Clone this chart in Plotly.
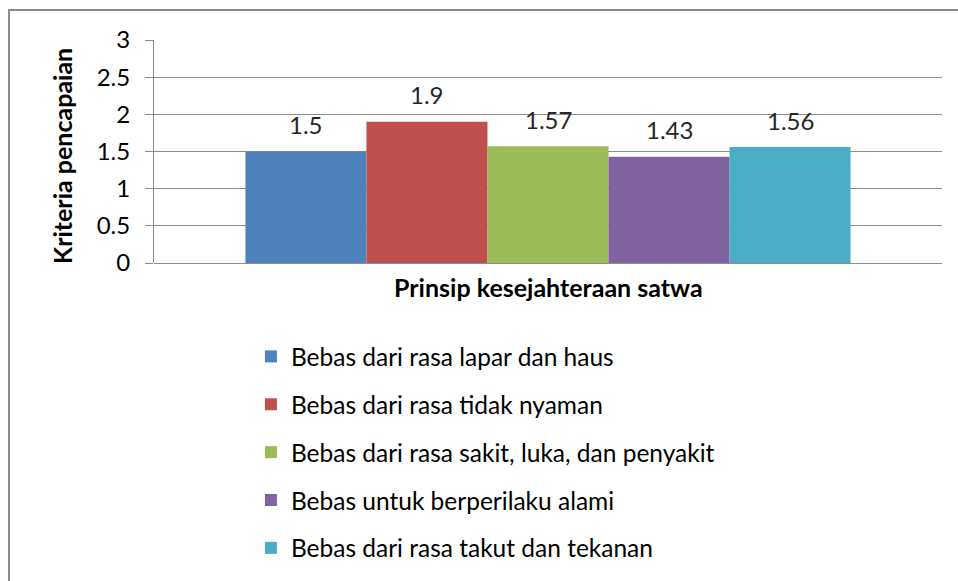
import plotly.graph_objects as go

categories = ["Prinsip kesejahteraan satwa"]
series_names = [
    "Bebas dari rasa lapar dan haus",
    "Bebas dari rasa tidak nyaman",
    "Bebas dari rasa sakit, luka, dan penyakit",
    "Bebas untuk berperilaku alami",
    "Bebas dari rasa takut dan tekanan",
]
series_values = [1.5, 1.9, 1.57, 1.43, 1.56]
colors = ["#4F81BD", "#C0504D", "#9BBB59", "#8064A2", "#4BACC6"]
y_ticks = [0, 0.5, 1, 1.5, 2, 2.5, 3]

FONT = "Lato"
W, H = 958, 581
ML, MR, MT, MB = 154, 16, 40, 318
PW, PH = W - ML - MR, H - MT - MB
BARGAP = 0.232
n = len(series_values)
bar_px = PW * (1 - BARGAP) / n

fig = go.Figure()
annotations = []
for i, (name, val, col) in enumerate(zip(series_names, series_values, colors)):
    fig.add_trace(go.Bar(
        x=categories, y=[val], name=name, marker_color=col,
        marker_line_width=0, legendgroup=f"g{i}",
    ))
    annotations.append(dict(
        x=categories[0], y=val, xref="x", yref="y", text=f"{val}",
        showarrow=False, xshift=(i - (n - 1) / 2) * bar_px, yshift=27,
        yanchor="middle", font=dict(family=FONT, size=24, color="#262626"),
    ))

# axis titles
annotations.append(dict(
    x=0.5, y=(263 - 287) / PH, xref="paper", yref="paper",
    text="<b>Prinsip kesejahteraan satwa</b>", showarrow=False,
    xanchor="center", yanchor="middle",
    font=dict(family=FONT, size=25, color="#000000"),
))
annotations.append(dict(
    x=(62 - ML) / PW, y=(263 - 156) / PH, xref="paper", yref="paper",
    text="<b>Kriteria pencapaian</b>", showarrow=False, textangle=-90,
    xanchor="center", yanchor="middle",
    font=dict(family=FONT, size=25, color="#000000"),
))

fig.update_layout(
    width=W, height=H,
    margin=dict(l=ML, r=MR, t=MT, b=MB, autoexpand=False),
    paper_bgcolor="white", plot_bgcolor="white",
    barmode="group", bargap=BARGAP, bargroupgap=0,
    font=dict(family=FONT, size=24, color="#000000"),
    showlegend=True,
    legend=dict(x=0.123, xanchor="left", y=(263 - 334) / PH, yanchor="top",
                traceorder="grouped", tracegroupgap=13,
                font=dict(family=FONT, size=24.5, color="#000000"),
                bgcolor="rgba(0,0,0,0)"),
    xaxis=dict(showticklabels=False, showline=False, ticks="", automargin=False),
    yaxis=dict(range=[0, 3], tickvals=y_ticks, ticktext=[f"{t:g}" for t in y_ticks],
               showgrid=True, gridcolor="#8C8C8C", gridwidth=1,
               showline=True, linecolor="#8C8C8C", linewidth=1,
               ticks="outside", ticklen=8, tickcolor="#8C8C8C",
               ticklabelstandoff=10,
               tickfont=dict(family=FONT, size=24, color="#000000"),
               zeroline=True, zerolinecolor="#8C8C8C", zerolinewidth=1,
               automargin=False),
    annotations=annotations,
    shapes=[dict(type="rect", xref="paper", yref="paper",
                 x0=(9 - ML) / PW, x1=2.0, y0=-3.0, y1=(263 - 10) / PH,
                 line=dict(color="#8C8C8C", width=2), fillcolor="rgba(0,0,0,0)", layer="above")],
)

fig.write_html("out.html",
               config={"displayModeBar": False},
               post_script="document.body.style.margin='0px';document.body.style.overflow='hidden';")
